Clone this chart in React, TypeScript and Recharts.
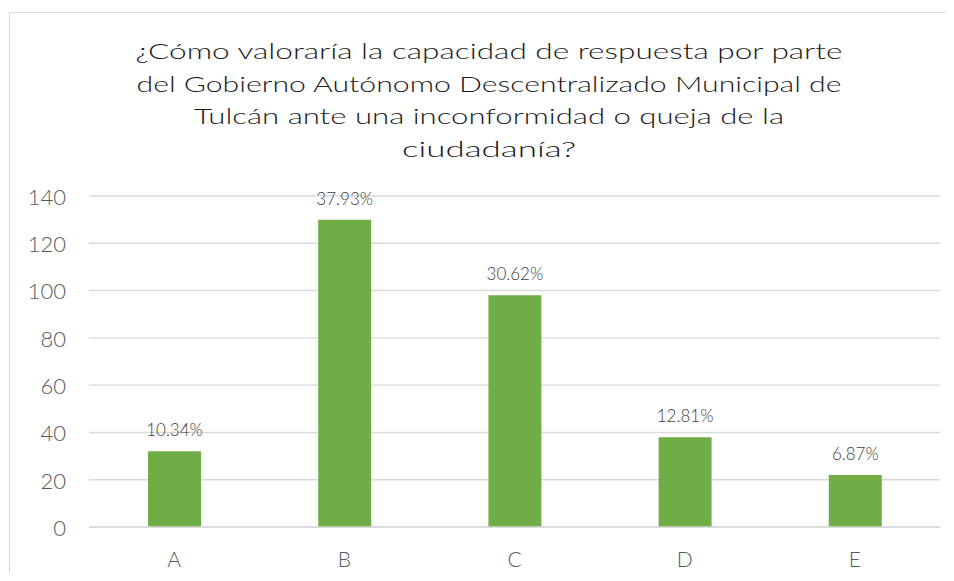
import React from 'react';
import { BarChart, Bar, XAxis, YAxis, CartesianGrid, LabelList } from 'recharts';

const categories = ['A', 'B', 'C', 'D', 'E'];
const counts = [32, 130, 98, 38, 22];
const percentLabels = ['10.34%', '37.93%', '30.62%', '12.81%', '6.87%'];
const yTicks = [0, 20, 40, 60, 80, 100, 120, 140];
const titleLines = [
  '¿Cómo valoraría la capacidad de respuesta por parte',
  'del Gobierno Autónomo Descentralizado Municipal de',
  'Tulcán ante una inconformidad o queja de la',
  'ciudadanía?',
];
const titleWidths = [707, 705, 590, 174];

const data = categories.map((c, i) => ({ name: c, value: counts[i], pct: percentLabels[i] }));

const FONT = 'Lato, "Noto Sans", sans-serif';

export default function App() {
  return (
    <div style={{ position: 'relative', width: 954, height: 581, margin: -8, background: '#fff', overflow: 'hidden' }}>
      <BarChart
        width={954}
        height={581}
        data={data}
        margin={{ top: 196, right: 14, bottom: 24, left: 0 }}
        style={{ fontFamily: FONT }}
      >
        <CartesianGrid vertical={false} stroke="#d9d9d9" strokeWidth={1.4} />
        <XAxis
          dataKey="name"
          axisLine={{ stroke: '#d9d9d9', strokeWidth: 1.4 }}
          tickLine={false}
          tickSize={0}
          tickMargin={25}
          height={30}
          tick={{ fill: '#595959', fontSize: 21, fontFamily: FONT, fontWeight: 300 }}
        />
        <YAxis
          domain={[0, 140]}
          ticks={yTicks}
          axisLine={false}
          tickLine={false}
          tickSize={0}
          tickMargin={23}
          width={89}
          interval={0}
          tick={{ fill: '#595959', fontSize: 22, fontFamily: FONT, fontWeight: 300, dy: 1 }}
        />
        <Bar dataKey="value" fill="#70AD47" barSize={53} isAnimationActive={false}>
          <LabelList dataKey="pct" position="top" offset={15} fill="#404040" fontSize={17} fontFamily={FONT} fontWeight={300} />
        </Bar>
      </BarChart>
      <svg width={954} height={581} style={{ position: 'absolute', left: 0, top: 0, pointerEvents: 'none' }}>
        <rect x={9.5} y={12.5} width={960} height={600} fill="none" stroke="#d9d9d9" strokeWidth={1} />
        {titleLines.map((line, i) => (
          <text
            key={i}
            x={489}
            y={59 + i * 32.5}
            textAnchor="middle"
            fontFamily={FONT}
            fontSize={22}
            fontWeight={300}
            fill="#1a1a1a"
            textLength={titleWidths[i]}
            lengthAdjust="spacingAndGlyphs"
          >
            {line}
          </text>
        ))}
      </svg>
    </div>
  );
}
